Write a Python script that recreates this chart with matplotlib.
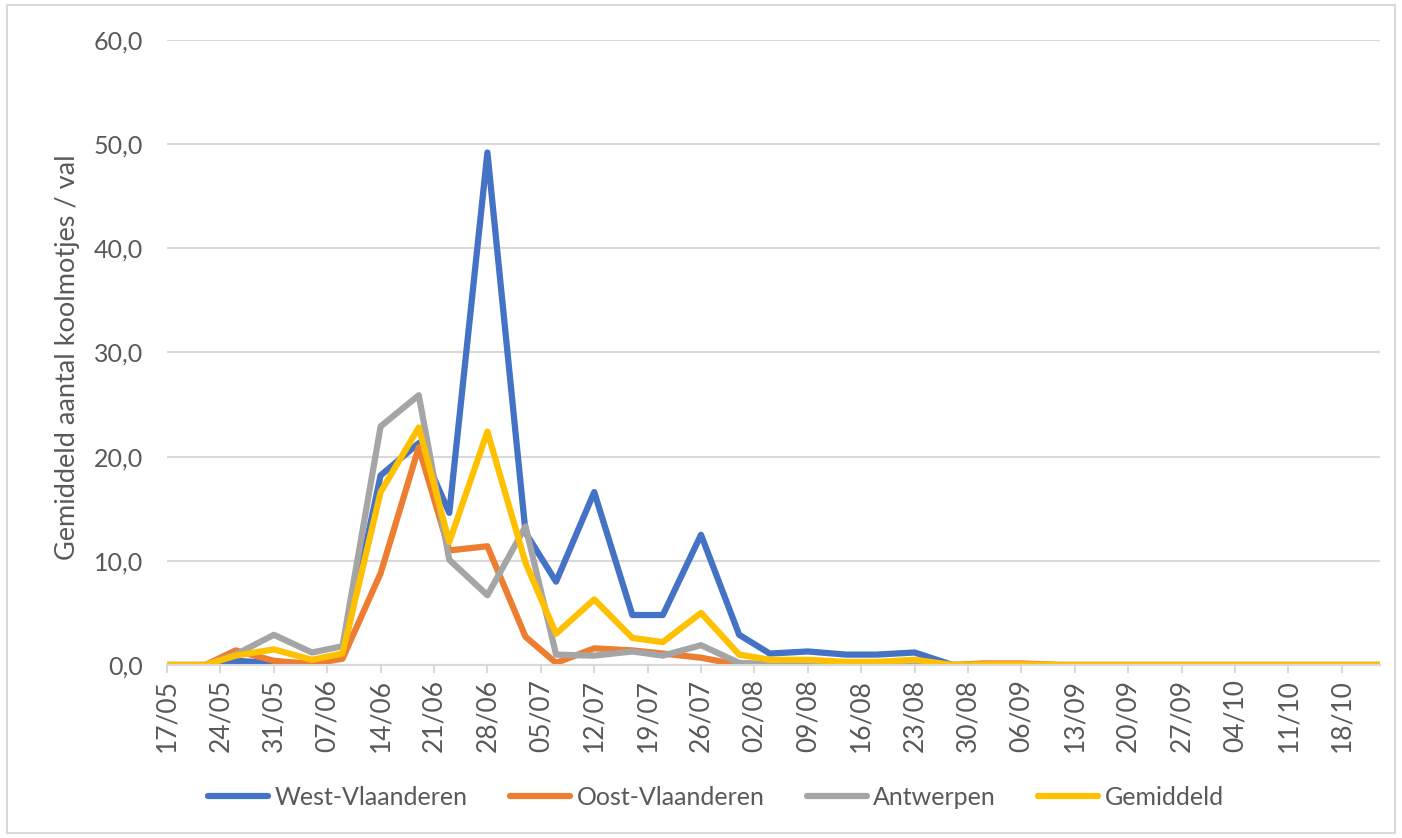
import matplotlib
matplotlib.use('Agg')
import matplotlib.pyplot as plt
import matplotlib.dates as mdates
import pandas as pd
from matplotlib.patches import Rectangle

# Bemonsteringsdata
sample_dates = ['17/05', '22/05', '26/05', '31/05', '05/06', '09/06', '14/06', '19/06',
                '23/06', '28/06', '03/07', '07/07', '12/07', '17/07', '21/07', '26/07',
                '31/07', '04/08', '09/08', '14/08', '18/08', '23/08', '28/08', '01/09',
                '06/09', '11/09', '15/09', '20/09', '25/09', '29/09', '04/10', '09/10',
                '13/10', '18/10', '23/10']

west_vlaanderen = [0, 0, 0.4, 0.2, 0, 0.9, 18.2, 21.3, 14.6, 49.2, 12.7, 8.0, 16.6, 4.8,
                   4.8, 12.5, 2.9, 1.1, 1.3, 1.0, 1.0, 1.2, 0, 0, 0, 0, 0, 0, 0, 0, 0,
                   0, 0, 0, 0]
oost_vlaanderen = [0, 0, 1.4, 0.4, 0.1, 0.6, 8.8, 20.9, 11.0, 11.4, 2.7, 0.2, 1.6, 1.4,
                   1.1, 0.7, 0, 0, 0, 0, 0, 0, 0, 0.15, 0.15, 0, 0, 0, 0, 0, 0, 0, 0,
                   0, 0]
antwerpen = [0, 0, 1.0, 2.9, 1.2, 1.8, 22.9, 25.9, 10.1, 6.7, 13.3, 1.0, 0.9, 1.3, 0.9,
             1.9, 0.2, 0.1, 0.1, 0, 0, 0.2, 0, 0, 0, 0, 0, 0, 0, 0, 0, 0, 0, 0, 0]
gemiddeld = [0, 0, 0.9, 1.5, 0.5, 1.1, 16.6, 22.8, 11.8, 22.4, 9.8, 3.0, 6.3, 2.6, 2.2,
             5.0, 1.0, 0.5, 0.5, 0.3, 0.3, 0.5, 0, 0.05, 0.05, 0, 0, 0, 0, 0, 0, 0, 0,
             0, 0]

series_names = ['West-Vlaanderen', 'Oost-Vlaanderen', 'Antwerpen', 'Gemiddeld']
series_colors = ['#4472c4', '#ed7d31', '#a5a5a5', '#ffc000']

plt.rcParams['font.family'] = ['Lato', 'DejaVu Sans']
text_color = '#595959'
grid_color = '#d9d9d9'

dates = pd.to_datetime(['2020/' + d[3:] + '/' + d[:2] for d in sample_dates])

fig = plt.figure(figsize=(14.02, 8.38), dpi=100)
ax = fig.add_axes([167 / 1402, 1 - 665 / 838, (1380 - 167) / 1402, (665 - 40) / 838])

# Lijnen per provincie
for values, name, color in zip([west_vlaanderen, oost_vlaanderen, antwerpen, gemiddeld],
                               series_names, series_colors):
    ax.plot(dates, values, color=color, lw=4.5, label=name,
            solid_joinstyle='round', solid_capstyle='round')

ax.set_ylim(0, 60)
ax.set_xlim(dates[0], dates[-1])
ax.set_yticks(range(0, 61, 10))
ax.set_yticklabels([f'{v:.1f}'.replace('.', ',') for v in range(0, 61, 10)])

xticks = pd.date_range(dates[0], periods=23, freq='7D')
ax.set_xticks(xticks)
ax.xaxis.set_major_formatter(mdates.DateFormatter('%d/%m'))
plt.setp(ax.get_xticklabels(), rotation=90)

ax.grid(axis='y', color=grid_color, lw=1.5)
ax.set_axisbelow(True)
for side in ['top', 'right', 'left']:
    ax.spines[side].set_visible(False)
ax.spines['bottom'].set_color(grid_color)
ax.spines['bottom'].set_linewidth(1.5)

ax.tick_params(axis='y', length=0, pad=17, labelsize=18, labelcolor=text_color)
ax.tick_params(axis='x', length=6, width=1.5, color=grid_color, pad=4,
               labelsize=19, labelcolor=text_color)

ax.set_ylabel('Gemiddeld aantal koolmotjes / val', fontsize=19.5, color=text_color,
              va='center')
ax.yaxis.set_label_coords((68 - 167) / 1213, (665 - 357) / 625)

fig.legend(loc='center', bbox_to_anchor=(716 / 1402, 1 - 797 / 838), ncol=4,
           frameon=False, fontsize=18, labelcolor=text_color, handlelength=2.4,
           handletextpad=0.25, columnspacing=1.7)

# Rand rond de grafiek
fig.patches.append(Rectangle((7 / 1402, 5 / 838), 1 - 14 / 1402, 1 - 10 / 838,
                             transform=fig.transFigure, fill=False,
                             edgecolor=grid_color, lw=1.5))

fig.savefig('out.png', dpi=100)
